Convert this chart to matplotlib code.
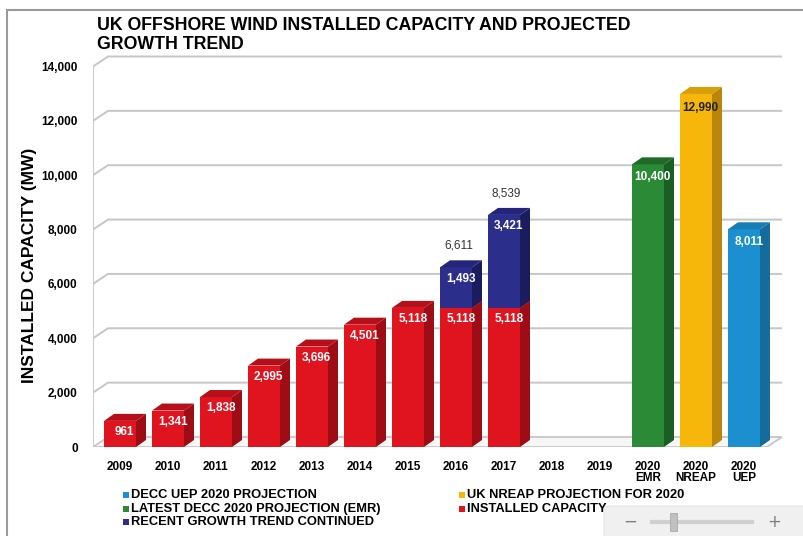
import matplotlib
matplotlib.use("Agg")
import matplotlib.pyplot as plt
from matplotlib.patches import Polygon, Rectangle, FancyBboxPatch

# ---- data ----
categories = ["2009", "2010", "2011", "2012", "2013", "2014", "2015", "2016",
              "2017", "2018", "2019", "2020\nEMR", "2020\nNREAP", "2020\nUEP"]
installed = [961, 1341, 1838, 2995, 3696, 4501, 5118, 5118, 5118, 0, 0, 0, 0, 0]
trend = [0, 0, 0, 0, 0, 0, 0, 1493, 3421, 0, 0, 0, 0, 0]
emr = [0, 0, 0, 0, 0, 0, 0, 0, 0, 0, 0, 10400, 0, 0]
nreap = [0, 0, 0, 0, 0, 0, 0, 0, 0, 0, 0, 0, 12990, 0]
uep = [0, 0, 0, 0, 0, 0, 0, 0, 0, 0, 0, 0, 0, 8011]
yticks = [0, 2000, 4000, 6000, 8000, 10000, 12000, 14000]

legend_labels = {
    "uep": "DECC UEP 2020 PROJECTION",
    "emr": "LATEST DECC 2020 PROJECTION (EMR)",
    "trend": "RECENT GROWTH TREND CONTINUED",
    "nreap": "UK NREAP PROJECTION FOR 2020",
    "installed": "INSTALLED CAPACITY",
}

# face / side / top colours per series
colors = {
    "installed": ("#E0141F", "#9E0C16", "#B50F1A"),
    "trend": ("#2C2E8C", "#1B1C5E", "#23247A"),
    "emr": ("#2A8A36", "#1B5E24", "#1F6A29"),
    "nreap": ("#F6B60A", "#B9860A", "#D99E08"),
    "uep": ("#1B8FD0", "#156B9C", "#177DB5"),
}

FAM = ["Liberation Sans", "DejaVu Sans"]

W, H = 804, 536
fig = plt.figure(figsize=(8.04, 5.36), dpi=100)
fig.patch.set_facecolor("white")

# axes geometry in pixels: 48 px per category, zero line at y=447
px_per_cat = 48.0
x0 = -0.5625
left_px = 93
right_px = 782
x1 = x0 + (right_px - left_px) / px_per_cat
bottom_px, top_px = 447, 50
ymax = (bottom_px - top_px) / (380.5 / 14000)
ax = fig.add_axes([left_px / W, (H - bottom_px) / H, (right_px - left_px) / W,
                   (bottom_px - top_px) / H])
ax.set_xlim(x0, x1)
ax.set_ylim(0, ymax)
for s in ax.spines.values():
    s.set_visible(False)
ax.set_facecolor("none")

# depth of walls/floor and of bars (data units)
wdx, wdy = 15 / px_per_cat, 10 / (380.5 / 14000)
bdx, bdy = 10 / px_per_cat, 7 / (380.5 / 14000)
w = 32 / px_per_cat
grid_c = "#c6c6c6"

# back wall gridlines with slanted left wall segments
for v in yticks[1:]:
    ax.plot([x0, x0 + wdx, x1], [v, v + wdy, v + wdy], color=grid_c, lw=1.4, zorder=1,
            solid_capstyle="butt")
# left wall front edge
ax.plot([x0, x0], [0, yticks[-1]], color=grid_c, lw=1.3, zorder=1)
# floor
ax.add_patch(Polygon([(x0, 0), (x1 - wdx, 0), (x1, wdy), (x0 + wdx, wdy)],
                     closed=True, facecolor="#f6f6f6", edgecolor=grid_c, lw=1.3, zorder=1))


def bar3d(c, bottom, height, key, z):
    face, side, top = colors[key]
    t = bottom + height
    l, r = c - w / 2, c + w / 2
    ax.bar(c, height, width=w, bottom=bottom, color=face, zorder=z, linewidth=0)
    ax.add_patch(Polygon([(r, bottom), (r + bdx, bottom + bdy), (r + bdx, t + bdy), (r, t)],
                         closed=True, facecolor=side, edgecolor="none", zorder=z))
    ax.add_patch(Polygon([(l, t), (l + bdx, t + bdy), (r + bdx, t + bdy), (r, t)],
                         closed=True, facecolor=top, edgecolor="none", zorder=z))


def inner_label(c, value, top, color="white", drop=420):
    ax.text(c + 0.1, top - drop, f"{value:,}", ha="center", va="center",
            color=color, fontsize=8.5, fontweight="bold", family=FAM, zorder=20)


for i in range(len(categories)):
    z = 3 + i * 0.1
    if installed[i]:
        bar3d(i, 0, installed[i], "installed", z)
        inner_label(i, installed[i], installed[i])
    if trend[i]:
        bar3d(i, installed[i], trend[i], "trend", z + 0.05)
        tot = installed[i] + trend[i]
        inner_label(i, trend[i], tot)
        ax.text(i + 0.05, tot + 800, f"{tot:,}", ha="center", va="center", color="#333333",
                fontsize=8.5, family=FAM, zorder=20)
    if emr[i]:
        bar3d(i, 0, emr[i], "emr", z)
        inner_label(i, emr[i], emr[i], drop=480)
    if nreap[i]:
        bar3d(i, 0, nreap[i], "nreap", z)
        inner_label(i, nreap[i], nreap[i], color="#222222", drop=520)
    if uep[i]:
        bar3d(i, 0, uep[i], "uep", z)
        inner_label(i, uep[i], uep[i], drop=480)

ax.set_xticks(range(len(categories)))
ax.set_xticklabels(categories, fontsize=8.5, fontweight="bold", family=FAM,
                   linespacing=0.95, va="top")
ax.set_yticks(yticks)
ax.set_yticklabels([f"{v:,}" for v in yticks], fontsize=8.5, fontweight="bold", family=FAM)
ax.tick_params(axis="both", length=0)
ax.tick_params(axis="x", pad=10)
ax.tick_params(axis="y", pad=11)

fig.text(30 / W, 1 - 265 / H, "INSTALLED CAPACITY (MW)", rotation=90, ha="center",
         va="center", fontsize=12.5, fontweight="bold", family=FAM)
fig.text(97 / W, 1 - 35 / H,
         "UK OFFSHORE WIND INSTALLED CAPACITY AND PROJECTED\nGROWTH TREND",
         ha="left", va="center", fontsize=12.8, fontweight="bold", family=FAM,
         linespacing=1.2)

# legend
leg_rows = [
    (126, 495, "uep"), (126, 509, "emr"), (126, 522, "trend"),
    (462, 495, "nreap"), (462, 509, "installed"),
]
for px, py, key in leg_rows:
    fig.patches.append(Rectangle(((px - 3) / W, 1 - (py + 3) / H), 6 / W, 6 / H,
                                 transform=fig.transFigure, facecolor=colors[key][0],
                                 edgecolor="none"))
    fig.text((px + 5) / W, 1 - py / H, legend_labels[key], ha="left", va="center",
             fontsize=9.3, fontweight="bold", family=FAM)

# outer frame
fig.patches.append(Rectangle((7 / W, -0.05), 820 / W, 1 - 10 / H + 0.05,
                             transform=fig.transFigure, facecolor="none",
                             edgecolor="#9a9a9a", lw=1.5))

# zoom slider control at the lower right
fig.patches.append(FancyBboxPatch((604 / W, -0.01), 210 / W, (H - 506) / H + 0.01,
                                  boxstyle="round,pad=0,rounding_size=0.008",
                                  transform=fig.transFigure, facecolor="#f0f0f0",
                                  edgecolor="#e4e4e4", lw=0.8, zorder=5))
fig.text(630 / W, 1 - 522 / H, "\u2212", ha="center", va="center", fontsize=12,
         color="#808080", zorder=6)
fig.text(774 / W, 1 - 522 / H, "+", ha="center", va="center", fontsize=12,
         color="#808080", zorder=6)
fig.lines.append(plt.Line2D([652 / W, 752 / W], [1 - 522 / H] * 2,
                            transform=fig.transFigure, color="#d0d0d0", lw=3, zorder=6))
fig.patches.append(Rectangle((670 / W, 1 - 531 / H), 7 / W, 18 / H,
                             transform=fig.transFigure, facecolor="#c0c0c0",
                             edgecolor="#a8a8a8", lw=0.6, zorder=7))

fig.savefig("out.png", dpi=100, facecolor="white")
